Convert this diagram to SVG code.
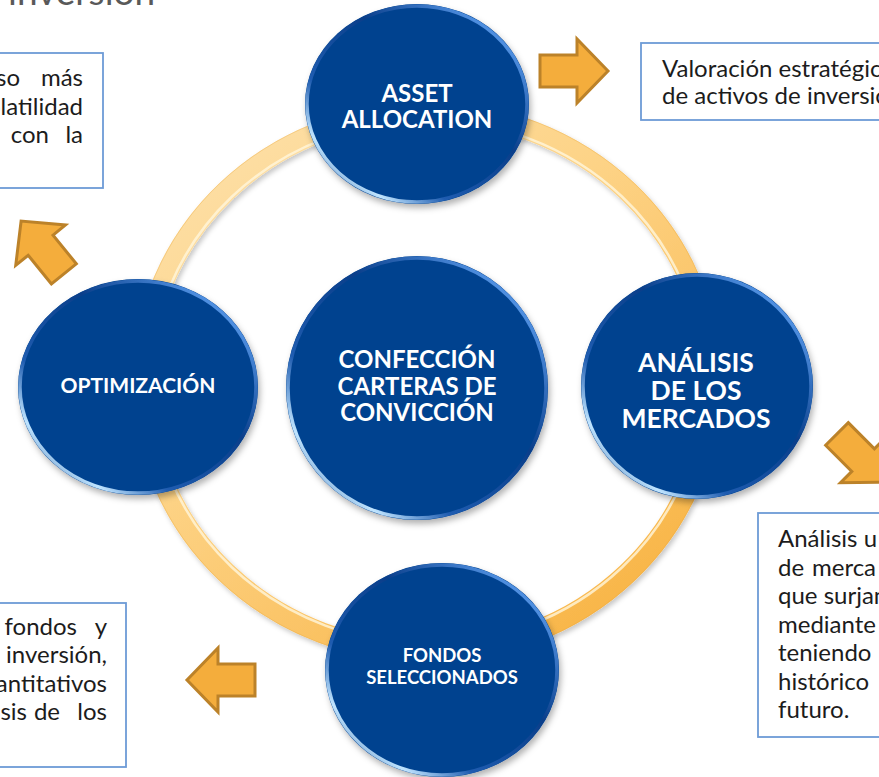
<svg xmlns="http://www.w3.org/2000/svg" width="879" height="777" viewBox="0 0 879 777">
<style>
.node-text{font-family:Lato,"Open Sans","Liberation Sans",sans-serif;font-weight:700;fill:#ffffff;text-anchor:middle}
.body{font-family:Lato,"Open Sans","Liberation Sans",sans-serif;font-size:24px;fill:#1c1c1c}
.box{fill:#ffffff;stroke:#6d9bd6;stroke-width:1.8}
.arrow{fill:#f4ad3c;stroke:#bc8229;stroke-width:3;stroke-linejoin:miter}
.disc{fill:#03438f;filter:url(#shadow)}
.rim{fill:none;stroke:url(#rimGrad);stroke-width:3.5}
</style>
<defs>
<filter id="shadow" x="-20%" y="-20%" width="140%" height="140%">
<feDropShadow dx="2" dy="4" stdDeviation="3" flood-color="#000000" flood-opacity="0.3"/>
</filter>
<filter id="ringShadow" x="-10%" y="-10%" width="120%" height="120%">
<feDropShadow dx="2" dy="3" stdDeviation="2.5" flood-color="#000000" flood-opacity="0.22"/>
</filter>
<linearGradient id="ringGrad" x1="0" y1="0" x2="0.8" y2="1">
<stop offset="0" stop-color="#fde2ae"/>
<stop offset="0.45" stop-color="#fdd386"/>
<stop offset="1" stop-color="#f8b445"/>
</linearGradient>
<linearGradient id="rimGrad" x1="0" y1="1" x2="1" y2="0">
<stop offset="0" stop-color="#0b3f88"/>
<stop offset="0.18" stop-color="#bfe4ff"/>
<stop offset="0.32" stop-color="#1f5cb0"/>
<stop offset="0.6" stop-color="#0a3e8a"/>
<stop offset="0.85" stop-color="#4f8fe0"/>
<stop offset="1" stop-color="#2a66bb"/>
</linearGradient>
<path id="blk" d="M-34,-16 H3 V-32 L34,0 L3,32 V16 H-34 Z"/>
</defs>

<rect width="879" height="777" fill="#ffffff"/>

<text x="8" y="5" font-family="Lato,'Open Sans','Liberation Sans',sans-serif" font-size="37" fill="#595959">inversión</text>

<g id="connectors">
<ellipse cx="427" cy="382" rx="284" ry="270" fill="none" stroke="url(#ringGrad)" stroke-width="21" filter="url(#ringShadow)"/>
<ellipse cx="427" cy="382" rx="276" ry="262" fill="none" stroke="#fff6dc" stroke-width="2.5" opacity="0.8"/>
<ellipse cx="427" cy="382" rx="294" ry="280" fill="none" stroke="#e9a73c" stroke-width="1" opacity="0.35"/>
<use href="#blk" class="arrow" transform="translate(574,71)"/>
<use href="#blk" class="arrow" transform="translate(42.5,247.5) rotate(-129)"/>
<use href="#blk" class="arrow" transform="translate(221,680) rotate(180)"/>
<use href="#blk" class="arrow" transform="translate(861,458) rotate(45)"/>
</g>

<g id="box-top-left">
<rect class="box" x="-5" y="53" width="108" height="135"/>
<text class="body" x="20" y="86" text-anchor="end">so</text>
<text class="body" x="83" y="86" text-anchor="end">más</text>
<text class="body" x="83" y="115" text-anchor="end">olatilidad</text>
<text class="body" x="49" y="143" text-anchor="end">con</text>
<text class="body" x="83" y="143" text-anchor="end">la</text>
</g>

<g id="box-top-right">
<rect class="box" x="641" y="43" width="250" height="77"/>
<text class="body" x="662" y="77">Valoración estratégica</text>
<text class="body" x="662" y="103.5">de activos de inversión</text>
</g>

<g id="box-bottom-left">
<rect class="box" x="-5" y="603" width="131" height="164"/>
<text class="body" x="77" y="635" text-anchor="end">fondos</text>
<text class="body" x="107" y="635" text-anchor="end">y</text>
<text class="body" x="107" y="663" text-anchor="end">inversión,</text>
<text class="body" x="107" y="692" text-anchor="end">antitativos</text>
<text class="body" x="27" y="720" text-anchor="end">isis</text>
<text class="body" x="60" y="720" text-anchor="end">de</text>
<text class="body" x="107" y="720" text-anchor="end">los</text>
</g>

<g id="box-bottom-right">
<rect class="box" x="758" y="513" width="140" height="224"/>
<text class="body" x="778" y="547">Análisis u</text>
<text class="body" x="778" y="576">de</text>
<text class="body" x="812" y="576">merca</text>
<text class="body" x="778" y="604">que surjan</text>
<text class="body" x="778" y="633">mediante</text>
<text class="body" x="778" y="661">teniendo</text>
<text class="body" x="778" y="690">histórico</text>
<text class="body" x="778" y="718">futuro.</text>
</g>

<g id="node-asset">
<ellipse class="disc" cx="417" cy="104" rx="112" ry="100"/>
<ellipse class="rim" cx="417" cy="104" rx="110" ry="98"/>
<text class="node-text" x="417" y="102" font-size="24">ASSET</text>
<text class="node-text" x="417" y="128" font-size="24">ALLOCATION</text>
</g>

<g id="node-optimizacion">
<ellipse class="disc" cx="138" cy="387" rx="120" ry="108"/>
<ellipse class="rim" cx="138" cy="387" rx="118" ry="106"/>
<text class="node-text" x="138" y="393" font-size="21">OPTIMIZACIÓN</text>
</g>

<g id="node-confeccion">
<ellipse class="disc" cx="417" cy="388" rx="131" ry="132"/>
<ellipse class="rim" cx="417" cy="388" rx="129" ry="130"/>
<text class="node-text" x="417" y="368" font-size="24">CONFECCIÓN</text>
<text class="node-text" x="417" y="395" font-size="24">CARTERAS DE</text>
<text class="node-text" x="417" y="421" font-size="24">CONVICCIÓN</text>
</g>

<g id="node-analisis">
<ellipse class="disc" cx="697" cy="386" rx="116" ry="113"/>
<ellipse class="rim" cx="697" cy="386" rx="114" ry="111"/>
<text class="node-text" x="696" y="372" font-size="26.5">ANÁLISIS</text>
<text class="node-text" x="696" y="400" font-size="26.5">DE LOS</text>
<text class="node-text" x="696" y="428" font-size="26.5">MERCADOS</text>
</g>

<g id="node-fondos">
<ellipse class="disc" cx="442" cy="670" rx="117" ry="107"/>
<ellipse class="rim" cx="442" cy="670" rx="115" ry="105"/>
<text class="node-text" x="442" y="662" font-size="18.5">FONDOS</text>
<text class="node-text" x="442" y="684" font-size="18.5">SELECCIONADOS</text>
</g>
</svg>
